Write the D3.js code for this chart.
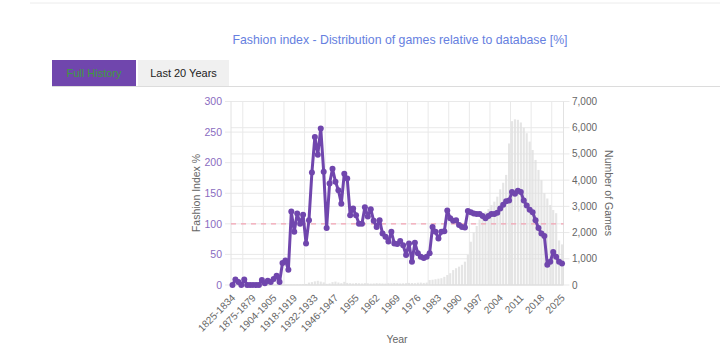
<!DOCTYPE html>
<html lang="en">
<head>
    <meta charset="UTF-8">
    <title>Fashion index</title>
    <style>
        body { margin: 0; background: #fff; }
        text { font-family: "Liberation Sans", Arial, sans-serif; }
    </style>
</head>
<body>
    <div id="chart"></div>
    <script src="https://d3js.org/d3.v7.min.js"></script>
    <script>

    // categories (grouped years early on, single years from 1950)
    const categories = [
        "1825-1834", "1835-1849", "1850-1854", "1855-1859", "1860-1864", "1865-1869", "1870-1874",
        "1875-1879", "1880-1884", "1885-1889", "1890-1894", "1895-1899", "1900-1901", "1902-1903",
        "1904-1905", "1906-1907", "1908-1909", "1910-1911", "1912-1913", "1914-1915", "1916-1917",
        "1918-1919", "1920-1921", "1922-1923", "1924-1925", "1926-1927", "1928-1929", "1930-1931",
        "1932-1933", "1934-1935", "1936-1937", "1938-1939", "1940-1941", "1942-1943", "1944-1945",
        "1946-1947", "1948-1949", "1950", "1951", "1952", "1953", "1954",
        "1955", "1956", "1957", "1958", "1959", "1960", "1961",
        "1962", "1963", "1964", "1965", "1966", "1967", "1968",
        "1969", "1970", "1971", "1972", "1973", "1974", "1975",
        "1976", "1977", "1978", "1979", "1980", "1981", "1982",
        "1983", "1984", "1985", "1986", "1987", "1988", "1989",
        "1990", "1991", "1992", "1993", "1994", "1995", "1996",
        "1997", "1998", "1999", "2000", "2001", "2002", "2003",
        "2004", "2005", "2006", "2007", "2008", "2009", "2010",
        "2011", "2012", "2013", "2014", "2015", "2016", "2017",
        "2018", "2019", "2020", "2021", "2022", "2023", "2024",
        "2025"
    ];

    // fashion index in %
    const fashionIndex = [
        0, 9, 5, 0, 9, 0, 0,
        0, 0, 0, 8, 3, 7, 5,
        10, 15, 5, 36, 40, 25, 120,
        87, 117, 100, 115, 68, 106, 184,
        242, 213, 256, 185, 93, 166, 190,
        169, 155, 133, 182, 174, 114, 125,
        114, 100, 100, 127, 112, 124, 105,
        95, 106, 84, 79, 71, 87, 68,
        67, 72, 65, 49, 68, 38, 69,
        52, 46, 44, 46, 52, 95, 87,
        76, 87, 88, 122, 109, 105, 106,
        98, 95, 94, 121, 119, 117, 116,
        116, 113, 109, 113, 116, 116, 118,
        125, 131, 137, 138, 152, 149, 154,
        152, 138, 130, 123, 119, 106, 93,
        84, 80, 33, 38, 54, 46, 38,
        35
    ];

    // number of games per category
    const games = [
        3, 2, 1, 2, 3, 1, 1,
        2, 1, 2, 4, 3, 5, 6,
        8, 10, 9, 12, 15, 14, 20,
        18, 25, 22, 30, 40, 90, 110,
        140, 160, 130, 100, 45, 60, 110,
        130, 95, 70, 120, 80, 70, 60,
        75, 65, 60, 70, 65, 55, 60,
        70, 65, 60, 55, 70, 65, 75,
        70, 60, 65, 70, 80, 75, 70,
        85, 90, 80, 90, 190, 200, 220,
        240, 260, 310, 380, 450, 570, 640,
        700, 770, 890, 1150, 1650, 2000, 2250,
        2500, 2650, 2780, 2900, 3050, 3180, 3370,
        3650, 3900, 4200, 5400, 6250, 6320, 6300,
        6200, 6000, 5790, 5470, 5150, 4770, 4390,
        4000, 3500, 3300, 3050, 2860, 2740, 1700,
        1550
    ];

    const leftTicks = [0, 50, 100, 150, 200, 250, 300];
    const rightTicks = [0, 1000, 2000, 3000, 4000, 5000, 6000, 7000];
    const shownLabels = ["1825-1834", "1875-1879", "1904-1905", "1918-1919", "1932-1933",
        "1946-1947", "1955", "1962", "1969", "1976", "1983", "1990", "1997", "2004",
        "2011", "2018", "2025"];

    const purple = "#7046ad";
    const area = {left: 231, right: 563.5, top: 101.5, bottom: 285};

    const svg = d3.select("#chart").append("svg")
        .attr("width", 720).attr("height", 362);

    // page header line
    svg.append("line")
        .attr("x1", 30).attr("x2", 720).attr("y1", 3).attr("y2", 3)
        .attr("stroke", "#ececec");

    // title
    svg.append("text")
        .attr("x", 400).attr("y", 44)
        .attr("text-anchor", "middle")
        .attr("textLength", 335)
        .attr("lengthAdjust", "spacingAndGlyphs")
        .style("font-size", "13px")
        .attr("fill", "#6680e0")
        .text("Fashion index - Distribution of games relative to database [%]");

    // tabs
    svg.append("rect").attr("x", 52).attr("y", 60).attr("width", 84).attr("height", 26)
        .attr("fill", purple);
    svg.append("text").attr("x", 94).attr("y", 77).attr("text-anchor", "middle")
        .style("font-size", "11px").attr("fill", "#3f9b3f").text("Full History");
    svg.append("rect").attr("x", 138).attr("y", 60).attr("width", 91).attr("height", 26)
        .attr("fill", "#f0f0f0");
    svg.append("text").attr("x", 183.5).attr("y", 77).attr("text-anchor", "middle")
        .style("font-size", "11px").attr("fill", "#222").text("Last 20 Years");
    svg.append("line").attr("x1", 52).attr("x2", 720).attr("y1", 86.5).attr("y2", 86.5)
        .attr("stroke", "#dcdcdc");

    // scales
    const x = d3.scaleBand()
        .domain(categories)
        .range([area.left, area.right])
        .padding(0);
    const cx = d => x(d) + x.bandwidth() / 2;

    const y = d3.scaleLinear().domain([0, 300]).range([area.bottom, area.top]);
    const y2 = d3.scaleLinear().domain([0, 7000]).range([area.bottom, area.top]);

    const grid = "#e9e9e9";

    // horizontal gridlines for both axes
    svg.append("g")
        .selectAll("line")
        .data(leftTicks)
        .join("line")
        .attr("x1", area.left - 6).attr("x2", area.right)
        .attr("y1", d => y(d)).attr("y2", d => y(d))
        .attr("stroke", grid);
    svg.append("g")
        .selectAll("line")
        .data(rightTicks)
        .join("line")
        .attr("x1", area.left).attr("x2", area.right + 6)
        .attr("y1", d => y2(d)).attr("y2", d => y2(d))
        .attr("stroke", grid);

    // vertical gridlines sit halfway between shown labels
    const step = cx(shownLabels[1]) - cx(shownLabels[0]);
    svg.append("g")
        .selectAll("line")
        .data(shownLabels.slice(1))
        .join("line")
        .attr("x1", d => cx(d) - step / 2).attr("x2", d => cx(d) - step / 2)
        .attr("y1", area.top).attr("y2", area.bottom)
        .attr("stroke", grid);

    // borders
    [area.left, area.right].forEach(v => {
        svg.append("line").attr("x1", v).attr("x2", v)
            .attr("y1", area.top).attr("y2", area.bottom).attr("stroke", "#e2e2e2");
    });
    svg.append("line").attr("x1", area.left).attr("x2", area.right)
        .attr("y1", area.bottom).attr("y2", area.bottom).attr("stroke", "#dedede");

    // bars: number of games
    const barW = x.bandwidth() * 0.72;
    svg.append("g")
        .selectAll("rect")
        .data(categories)
        .join("rect")
        .attr("x", d => cx(d) - barW / 2)
        .attr("width", barW)
        .attr("y", (d, i) => y2(games[i]))
        .attr("height", (d, i) => area.bottom - y2(games[i]))
        .attr("fill", "#dedede")
        .attr("opacity", 0.8);

    // 100% reference line
    svg.append("line")
        .attr("x1", area.left).attr("x2", area.right)
        .attr("y1", y(100)).attr("y2", y(100))
        .attr("stroke", "#f4a3b3")
        .attr("stroke-width", 1.2)
        .attr("stroke-dasharray", "5,5");

    // fashion index line
    const line = d3.line()
        .x((d, i) => cx(categories[i]))
        .y(d => y(d));
    svg.append("path")
        .datum(fashionIndex)
        .attr("d", line)
        .attr("fill", "none")
        .attr("stroke", purple)
        .attr("stroke-width", 3)
        .attr("stroke-linejoin", "round");
    svg.append("g")
        .selectAll("circle")
        .data(fashionIndex)
        .join("circle")
        .attr("cx", (d, i) => cx(categories[i]))
        .attr("cy", d => y(d))
        .attr("r", 3)
        .attr("fill", purple);

    // left axis labels
    svg.append("g")
        .selectAll("text")
        .data(leftTicks)
        .join("text")
        .attr("x", area.left - 9)
        .attr("y", d => y(d))
        .attr("dy", "0.35em")
        .attr("text-anchor", "end")
        .style("font-size", "10.5px")
        .attr("fill", "#8a6cbf")
        .text(d => d);

    // right axis labels
    svg.append("g")
        .selectAll("text")
        .data(rightTicks)
        .join("text")
        .attr("x", area.right + 8.5)
        .attr("y", d => y2(d))
        .attr("dy", "0.35em")
        .attr("text-anchor", "start")
        .style("font-size", "10px")
        .attr("fill", "#666")
        .text(d => d3.format(",")(d));

    // x labels
    svg.append("g")
        .selectAll("text")
        .data(shownLabels)
        .join("text")
        .attr("transform", d => `translate(${cx(d) + 1}, 296) rotate(-45)`)
        .attr("dy", "0.35em")
        .attr("text-anchor", "end")
        .style("font-size", "10px")
        .attr("fill", "#666")
        .text(d => d);

    // axis titles
    svg.append("text")
        .attr("transform", "translate(200, 193) rotate(-90)")
        .attr("text-anchor", "middle")
        .style("font-size", "10.5px")
        .attr("fill", "#666")
        .text("Fashion Index %");
    svg.append("text")
        .attr("transform", "translate(605, 193) rotate(90)")
        .attr("text-anchor", "middle")
        .style("font-size", "10.5px")
        .attr("fill", "#666")
        .text("Number of Games");
    svg.append("text")
        .attr("x", 397).attr("y", 343)
        .attr("text-anchor", "middle")
        .style("font-size", "10.5px")
        .attr("fill", "#666")
        .text("Year");

    </script>
</body>
</html>
